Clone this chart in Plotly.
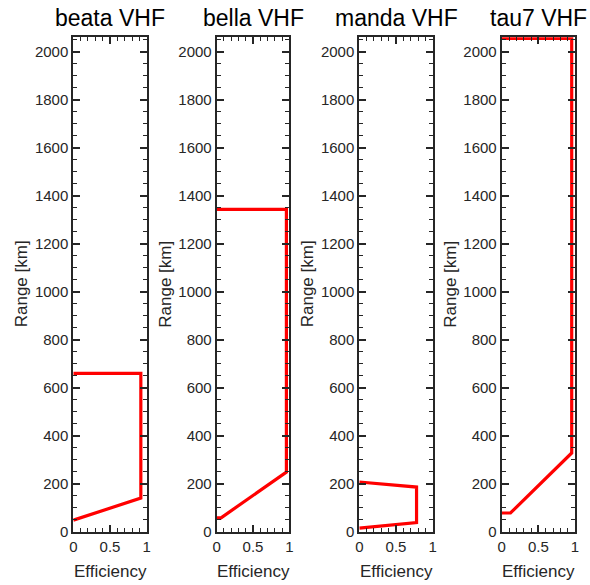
import plotly.graph_objects as go

W, H = 590, 585

titles = ["beata VHF", "bella VHF", "manda VHF", "tau7 VHF"]
eff_beata = [0.0, 0.92, 0.92, 0.0]
rng_beata = [48, 140, 660, 660]
eff_bella = [0.0, 0.06, 0.96, 0.96, 0.0]
rng_bella = [58, 58, 248, 1343, 1343]
eff_manda = [0.0, 0.78, 0.78, 0.0]
rng_manda = [15, 38, 186, 207]
eff_tau7 = [0.0, 0.12, 0.955, 0.955, 0.0]
rng_tau7 = [78, 78, 328, 2055, 2055]

effs = [eff_beata, eff_bella, eff_manda, eff_tau7]
rngs = [rng_beata, rng_bella, rng_manda, rng_tau7]

x_ticks = [0, 0.5, 1]
x_labels = ["0", "0.5", "1"]
y_ticks = [0, 200, 400, 600, 800, 1000, 1200, 1400, 1600, 1800, 2000]

# panel pixel boxes
lefts = [73.3, 216.7, 359.3, 501.7]
rights = [146.7, 289.3, 432.7, 575.0]
top_px, bot_px = 37.3, 531.7

fig = go.Figure()
axcol = "#262626"
font = "Liberation Sans, Arial, sans-serif"
annotations = []
for i in range(4):
    xa = "xaxis" if i == 0 else f"xaxis{i+1}"
    ya = "yaxis" if i == 0 else f"yaxis{i+1}"
    xr = "x" if i == 0 else f"x{i+1}"
    yr = "y" if i == 0 else f"y{i+1}"
    fig.add_trace(go.Scatter(x=effs[i], y=rngs[i], mode="lines",
                             line=dict(color="#ff0000", width=3.2),
                             xaxis=xr, yaxis=yr, showlegend=False,
                             cliponaxis=True))
    fig.layout[xa] = dict(
        domain=[lefts[i] / W, rights[i] / W], anchor=yr,
        range=[0, 1], tickvals=x_ticks, ticktext=x_labels,
        ticks="inside", ticklen=7, tickwidth=1.6, tickcolor=axcol,
        minor=dict(ticks="inside", dtick=0.1, ticklen=4, tickwidth=1.4, tickcolor=axcol),
        showline=True, linecolor=axcol, linewidth=2, mirror="allticks",
        showgrid=False, zeroline=False, automargin=False,
        tickfont=dict(family=font, size=15, color=axcol),
    )
    fig.layout[ya] = dict(
        domain=[1 - bot_px / H, 1 - top_px / H], anchor=xr,
        range=[0, 2060], tickvals=y_ticks,
        ticks="inside", ticklen=7, tickwidth=1.6, tickcolor=axcol,
        minor=dict(ticks="inside", dtick=50, ticklen=4, tickwidth=1.4, tickcolor=axcol),
        showline=True, linecolor=axcol, linewidth=2, mirror="allticks",
        showgrid=False, zeroline=False, automargin=False,
        tickfont=dict(family=font, size=15, color=axcol),
    )
    annotations.append(dict(text=titles[i], xref="paper", yref="paper",
                            x=(lefts[i] + rights[i]) / 2 / W, y=1 - 18 / H,
                            xanchor="center", yanchor="middle", showarrow=False,
                            font=dict(family=font, size=23, color="#000000")))
    annotations.append(dict(text="Range [km]", xref="paper", yref="paper",
                            x=(lefts[i] - 52) / W, y=1 - 284 / H, textangle=-90,
                            xanchor="center", yanchor="middle", showarrow=False,
                            font=dict(family=font, size=17, color=axcol)))
    annotations.append(dict(text="Efficiency", xref="paper", yref="paper",
                            x=(lefts[i] + rights[i]) / 2 / W, y=1 - 571 / H,
                            xanchor="center", yanchor="middle", showarrow=False,
                            font=dict(family=font, size=17, color=axcol)))

fig.update_layout(width=W, height=H, margin=dict(l=0, r=0, t=0, b=0),
                  paper_bgcolor="white", plot_bgcolor="white",
                  annotations=annotations)
fig.write_html("out.html", config={"displayModeBar": False},
               post_script="document.body.style.margin='0';document.body.style.overflow='hidden';")
